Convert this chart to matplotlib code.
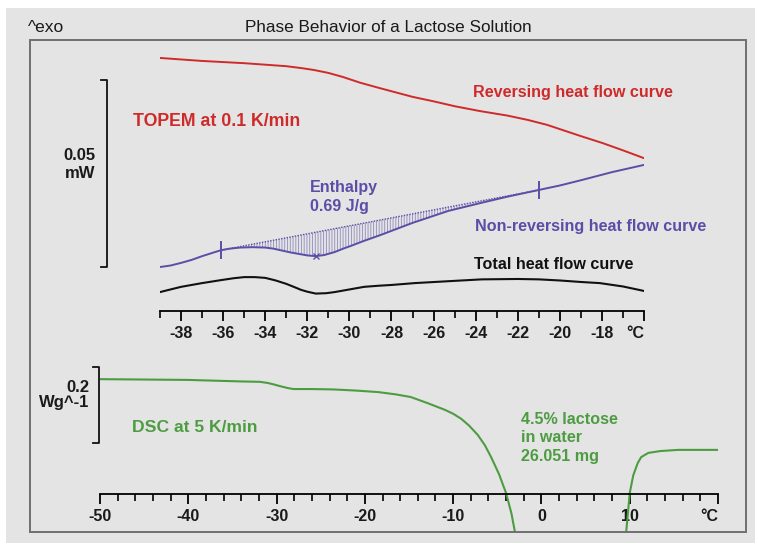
"""
乳糖溶液相行为：TOPEM 与 DSC 曲线
"""

import numpy as np
import matplotlib
matplotlib.use('Agg')
import matplotlib.pyplot as plt
from matplotlib.patches import Rectangle
from matplotlib.ticker import MultipleLocator

plt.rcParams['font.family'] = ['Liberation Sans', 'DejaVu Sans']
plt.rcParams['hatch.linewidth'] = 0.6

# ---- 上图 TOPEM 0.1 K/min：温度 (°C) / 热流 (mW) ----
rev_t = [-39.0, -38.0, -37.0, -36.0, -35.0, -34.0, -33.0, -32.3, -31.7, -31.0, -30.3, -29.5, -28.6,
         -27.8, -27.0, -26.0, -25.0, -23.8, -22.5, -21.5, -20.6, -19.8, -19.0, -18.0, -17.0, -16.0]
rev_mw = [0.0559, 0.0555, 0.0551, 0.0548, 0.0545, 0.0541, 0.0537, 0.0532, 0.0527, 0.0519, 0.0508, 0.0493, 0.0479,
          0.0467, 0.0455, 0.0443, 0.0430, 0.0417, 0.0405, 0.0393, 0.0380, 0.0365, 0.0350, 0.0332, 0.0312, 0.0291]

nonrev_t = [-39.0, -38.5, -38.0, -37.5, -37.0, -36.5, -36.1, -35.7, -35.2, -34.6, -34.0, -33.6, -33.2, -32.8,
            -32.4, -32.0, -31.6, -31.2, -30.7, -30.3, -30.0, -29.3, -28.5, -27.0, -25.3, -23.7, -22.5, -21.0,
            -20.0, -19.0, -17.5, -16.0]
nonrev_mw = [0.0000, 0.0004, 0.0011, 0.0019, 0.0029, 0.0038, 0.0045, 0.0049, 0.0052, 0.0053, 0.0052, 0.0049,
             0.0044, 0.0039, 0.0035, 0.0031, 0.0029, 0.0032, 0.0040, 0.0049, 0.0055, 0.0070, 0.0086, 0.0118,
             0.0150, 0.0172, 0.0188, 0.0206, 0.0218, 0.0232, 0.0254, 0.0273]

total_t = [-39.0, -38.5, -38.0, -37.0, -36.1, -35.5, -35.0, -34.5, -34.0, -33.5, -33.0, -32.6, -32.3, -32.0,
           -31.6, -31.1, -30.7, -30.0, -29.3, -28.6, -28.0, -26.9, -25.0, -23.7, -22.0, -21.0, -20.0, -19.0,
           -18.1, -17.0, -16.0]
total_mw = [-0.0067, -0.0060, -0.0053, -0.0043, -0.0035, -0.0030, -0.0027, -0.0027, -0.0029, -0.0036, -0.0045,
            -0.0054, -0.0061, -0.0066, -0.0071, -0.0070, -0.0067, -0.0060, -0.0053, -0.0050, -0.0048, -0.0043,
            -0.0037, -0.0033, -0.0032, -0.0033, -0.0036, -0.0040, -0.0043, -0.0052, -0.0064]

# 焓积分的起止点和最小点
limit_t = [-36.1, -21.0]
min_t = [-31.6]

top_ticks = [-38, -36, -34, -32, -30, -28, -26, -24, -22, -20, -18, -16]
top_labels = ['-38', '-36', '-34', '-32', '-30', '-28', '-26', '-24', '-22', '-20', '-18', '°C']

# ---- 下图 DSC 5 K/min：温度 (°C) / 热流 (W/g) ----
dsc_t = [-50.0, -40.0, -34.0, -31.9, -31.0, -30.3, -29.5, -28.8, -28.1, -26.0, -23.6, -21.0, -18.5, -16.5,
         -14.8, -12.9, -10.9, -10.0, -9.1, -8.2, -7.2, -6.4, -5.7, -4.8, -4.0, -3.4, -3.0, -2.6,
         np.nan, 9.5, 9.6, 10.0, 10.4, 10.9, 11.3, 12.1, 13.5, 15.5, 20.0]
dsc_wg = [0.168, 0.166, 0.162, 0.161, 0.158, 0.154, 0.149, 0.145, 0.142, 0.142, 0.141, 0.138, 0.134, 0.128,
          0.121, 0.105, 0.087, 0.077, 0.064, 0.046, 0.021, -0.006, -0.037, -0.082, -0.132, -0.185, -0.234, -0.320,
          np.nan, -0.320, -0.234, -0.132, -0.085, -0.053, -0.037, -0.026, -0.021, -0.018, -0.018]

bot_ticks = [-50, -40, -30, -20, -10, 0, 10, 20]
bot_labels = ['-50', '-40', '-30', '-20', '-10', '0', '10', '°C']

RED = '#cf2a2a'
BLUE = '#5a4ea6'
GREEN = '#4d9c42'
BG = '#e4e4e4'

W, H = 758, 548


def fx(px):
    return px / W


def fy(py):
    return 1 - py / H


fig = plt.figure(figsize=(W / 100, H / 100), dpi=100)
fig.patch.set_facecolor('white')

# 背景和外框
fig.patches.append(Rectangle((fx(6), fy(543)), fx(755) - fx(6), fy(8) - fy(543),
                             transform=fig.transFigure, facecolor=BG, edgecolor='none', zorder=-5))
fig.patches.append(Rectangle((fx(30), fy(532)), fx(746) - fx(30), fy(40) - fy(532),
                             transform=fig.transFigure, facecolor='none', edgecolor='#6f6f6f',
                             linewidth=1.4, zorder=10))


def style_axis(ax):
    ax.set_facecolor('none')
    for s in ['left', 'right', 'top']:
        ax.spines[s].set_visible(False)
    ax.spines['bottom'].set_linewidth(1.3)
    ax.set_yticks([])
    ax.tick_params(axis='x', which='major', direction='out', length=7, width=1.3,
                   labelsize=11.5, pad=4)
    ax.tick_params(axis='x', which='minor', direction='out', length=5, width=1.2)
    for lab in ax.get_xticklabels():
        lab.set_fontweight('bold')
        lab.set_color('#1a1a1a')
    ax.get_xticklabels()[-1].set_ha('right')


# ---- 上图 ----
ax1 = fig.add_axes([fx(160), fy(311), fx(644) - fx(160), fy(40) - fy(311)])
ax1.set_xlim(-39, -16)
ax1.set_ylim(-0.01176, 0.0607)
ax1.set_xticks(top_ticks)
ax1.set_xticklabels(top_labels)
ax1.xaxis.set_minor_locator(MultipleLocator(1))
style_axis(ax1)

ax1.plot(rev_t, rev_mw, color=RED, lw=1.4)
ax1.plot(nonrev_t, nonrev_mw, color=BLUE, lw=1.4)
ax1.plot(total_t, total_mw, color='#111111', lw=1.5)

# 焓积分区域：基线与曲线之间的阴影
nt = np.array(nonrev_t)
nv = np.array(nonrev_mw)
limit_v = np.interp(limit_t, nt, nv)
mask = (nt >= limit_t[0]) & (nt <= limit_t[1])
base = np.interp(nt[mask], limit_t, limit_v)
ax1.fill_between(nt[mask], base, nv[mask], facecolor='none', edgecolor=(0.35, 0.31, 0.65, 0.6),
                 hatch='||||||', linewidth=0)
ax1.plot(limit_t, limit_v, color=BLUE, lw=1.0, ls=(0, (1, 1)))
ax1.plot(limit_t, limit_v, ls='none', marker='|', ms=13, mew=1.4, color=BLUE)
ax1.plot(min_t, np.interp(min_t, nt, nv), ls='none', marker='x', ms=4, mew=1.0, color=BLUE)

# 0.05 mW 标尺
ax1.plot([-41.8, -41.52, -41.52, -41.8], [0.05, 0.05, 0.0, 0.0], color='#111111', lw=1.3, clip_on=False)

# ---- 下图 ----
ax2 = fig.add_axes([fx(100), fy(532), fx(718) - fx(100), fy(340) - fy(532)])
ax2.set_xlim(-50, 20)
ax2.set_ylim(-0.234, 0.271)
ax2.spines['bottom'].set_position(('data', -0.134))
ax2.set_xticks(bot_ticks)
ax2.set_xticklabels(bot_labels)
ax2.xaxis.set_minor_locator(MultipleLocator(2))
style_axis(ax2)

ax2.plot(dsc_t, dsc_wg, color=GREEN, lw=1.5)

# 0.2 W/g 标尺
ax2.plot([-50.8, -50.1, -50.1, -50.8], [0.2, 0.2, 0.0, 0.0], color='#111111', lw=1.3, clip_on=False)

# ---- 文字 ----
fig.text(fx(28), fy(28), '^exo', fontsize=12.5, va='center', ha='left', color='#1a1a1a')
fig.text(fx(388), fy(28), 'Phase Behavior of a Lactose Solution', fontsize=12.3, va='center', ha='center',
         color='#1a1a1a')

fig.text(fx(133), fy(122), 'TOPEM at 0.1 K/min', fontsize=12.8, fontweight='bold', color=RED, va='center')
fig.text(fx(473), fy(93), 'Reversing heat flow curve', fontsize=11.6, fontweight='bold', color=RED, va='center')
fig.text(fx(95), fy(155), '0.05', fontsize=12, fontweight='bold', color='#1a1a1a', va='center', ha='right')
fig.text(fx(95), fy(173), 'mW', fontsize=12, fontweight='bold', color='#1a1a1a', va='center', ha='right')
fig.text(fx(310), fy(187), 'Enthalpy', fontsize=11.5, fontweight='bold', color=BLUE, va='center')
fig.text(fx(310), fy(206), '0.69 J/g', fontsize=11.5, fontweight='bold', color=BLUE, va='center')
fig.text(fx(475), fy(227), 'Non-reversing heat flow curve', fontsize=11.6, fontweight='bold', color=BLUE,
         va='center')
fig.text(fx(474), fy(265), 'Total heat flow curve', fontsize=11.6, fontweight='bold', color='#111111',
         va='center')

fig.text(fx(89), fy(387), '0.2', fontsize=12, fontweight='bold', color='#1a1a1a', va='center', ha='right')
fig.text(fx(89), fy(403), 'Wg^-1', fontsize=12, fontweight='bold', color='#1a1a1a', va='center', ha='right')
fig.text(fx(132), fy(428), 'DSC at 5 K/min', fontsize=12.6, fontweight='bold', color=GREEN, va='center')
fig.text(fx(521), fy(419), '4.5% lactose', fontsize=11.6, fontweight='bold', color=GREEN, va='center')
fig.text(fx(521), fy(438), 'in water', fontsize=11.6, fontweight='bold', color=GREEN, va='center')
fig.text(fx(521), fy(457), '26.051 mg', fontsize=11.6, fontweight='bold', color=GREEN, va='center')

fig.savefig('out.png', dpi=100)
print("saved out.png")
